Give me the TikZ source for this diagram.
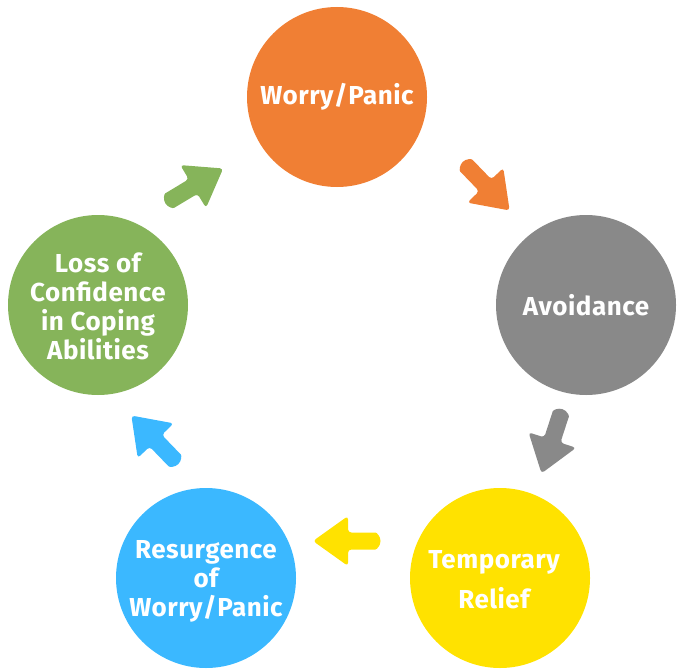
\documentclass[tikz,border=0pt]{standalone}
\usepackage{fontspec}
\setmainfont{Fira Sans}[LetterSpace=2]
\definecolor{cOrange}{HTML}{F07F34}
\definecolor{cGray}{HTML}{898989}
\definecolor{cYellow}{HTML}{FFE200}
\definecolor{cBlue}{HTML}{3BB8FF}
\definecolor{cGreen}{HTML}{86B45A}
\tikzset{
  stage/.style={circle, minimum size=135pt, inner sep=0pt, fill=#1},
  stagetext/.style={text=white, font=\bfseries\fontsize{19.5}{21.75}\selectfont, align=center},
  blockarrow/.pic={
    \fill[pic actions, rounded corners=2.5pt]
      (-1,8.5) -- (-1,25) -- (34,0) -- (-1,-25) -- (-1,-8.5) -- (-25,-8.5)
      arc(-90:-270:8.5) -- cycle;
  }
}
\begin{document}
\begin{tikzpicture}[x=0.75pt,y=0.75pt]
\useasboundingbox (0,0) rectangle (680,669);
\node[stage=cOrange] (worry) at (337,572) {};
\node[stagetext] (worrytext) at (worry) {Worry/Panic};
\node[stage=cGray] (avoid) at (586,364) {};
\node[stagetext] (avoidtext) at (avoid) {Avoidance};
\node[stage=cYellow] (relief) at (500,91) {};
\node[stagetext, font=\bfseries\fontsize{19.5}{30}\selectfont] (relieftext) at (494,89) {Temporary\\Relief};
\node[stage=cBlue] (resurg) at (206,91) {};
\node[stagetext] (resurgtext) at (206,88) {Resurgence\\of\\Worry/Panic};
\node[stage=cGreen] (loss) at (98,364) {};
\node[stagetext] (losstext) at (98,363) {Loss of\\Confidence\\in Coping\\Abilities};
\pic[fill=cOrange, rotate=-46] at (486,483) {blockarrow};
\pic[fill=cGray, rotate=-108] at (552,228) {blockarrow};
\pic[fill=cYellow, rotate=180] at (347,128) {blockarrow};
\pic[fill=cBlue, rotate=134] at (155,229) {blockarrow};
\pic[fill=cGreen, rotate=31] at (194,483) {blockarrow};
\end{tikzpicture}
\end{document}
